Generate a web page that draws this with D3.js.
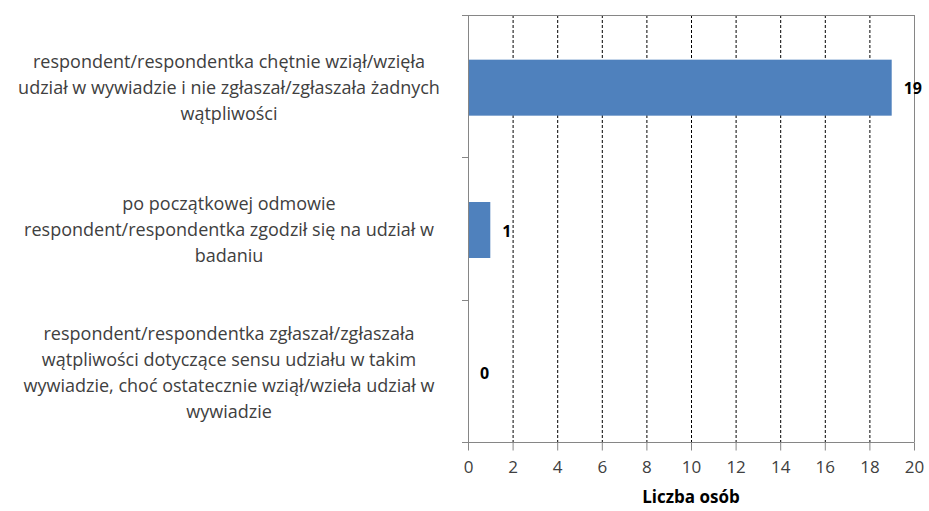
<!DOCTYPE html>
<html><head><meta charset="utf-8">
<script src="https://cdn.jsdelivr.net/npm/d3@7"></script>
<style>body{margin:0;background:#fff;} svg{display:block;}</style>
</head><body>
<svg id="chart" width="929" height="511"></svg>
<script>
const categories = [
  ["respondent/respondentka chętnie wziął/wzięła", "udział w wywiadzie i nie zgłaszał/zgłaszała żadnych", "wątpliwości"],
  ["po początkowej odmowie", "respondent/respondentka zgodził się na udział w", "badaniu"],
  ["respondent/respondentka zgłaszał/zgłaszała", "wątpliwości dotyczące sensu udziału w takim", "wywiadzie, choć ostatecznie wziął/wzieła udział w", "wywiadzie"]
];
const values = [19, 1, 0];
const xTicks = [0, 2, 4, 6, 8, 10, 12, 14, 16, 18, 20];
const xTitle = "Liczba osób";

const svg = d3.select("#chart");
const m = {left: 468, right: 914, top: 15, bottom: 442};
const font = "Open Sans, Liberation Sans, sans-serif";

const x = d3.scaleLinear().domain([0, 20]).range([m.left, m.right]);
const y = d3.scaleBand().domain(d3.range(categories.length)).range([m.top, m.bottom]).paddingInner(0).paddingOuter(0);
const barH = 56;
const off = 1.5;

// gridlines
svg.append("g").selectAll("line").data(xTicks.filter(t => t > 0 && t < 20)).join("line")
  .attr("x1", d => x(d) + 0.5).attr("x2", d => x(d) + 0.5)
  .attr("y1", m.top).attr("y2", m.bottom)
  .attr("stroke", "#000").attr("stroke-width", 1).attr("stroke-dasharray", "3,2");

// frame top and right
svg.append("line").attr("x1", m.left).attr("x2", m.right + 0.5).attr("y1", m.top + 0.5).attr("y2", m.top + 0.5).attr("stroke", "#868686");
svg.append("line").attr("x1", m.right + 0.5).attr("x2", m.right + 0.5).attr("y1", m.top).attr("y2", m.bottom).attr("stroke", "#868686");

// bars
svg.append("g").selectAll("rect").data(values).join("rect")
  .attr("x", x(0)).attr("y", (d, i) => y(i) + y.bandwidth() / 2 - barH / 2 + off)
  .attr("width", d => x(d) - x(0)).attr("height", barH)
  .attr("fill", "#4F81BD");

// value labels
svg.append("g").selectAll("text").data(values).join("text")
  .attr("x", d => x(d) + 12).attr("y", (d, i) => y(i) + y.bandwidth() / 2 + off + 1)
  .attr("dy", "0.35em")
  .attr("font-family", font).attr("font-size", 16).attr("font-weight", "bold").attr("fill", "#000")
  .text(d => d);

// x axis
const xAxis = d3.axisBottom(x).tickValues(xTicks).tickSize(8).tickPadding(10).tickFormat(d3.format("d"));
const gx = svg.append("g").attr("transform", `translate(0,${m.bottom + 0.5})`).call(xAxis);
gx.select(".domain").attr("stroke", "#868686").attr("d", `M${m.left - 6},0H${m.right + 0.5}`);
gx.selectAll(".tick line").attr("stroke", "#868686");
gx.selectAll("text").attr("font-family", font).attr("font-size", 17).attr("fill", "#404040");

// y axis (category separators)
const yEdges = [0, 1, 2, 3].map(i => i < 3 ? y(i) : m.bottom);
svg.append("line").attr("x1", m.left + 0.5).attr("x2", m.left + 0.5).attr("y1", m.top).attr("y2", m.bottom).attr("stroke", "#868686");
svg.append("g").selectAll("line").data(yEdges).join("line")
  .attr("x1", m.left - 6).attr("x2", m.left).attr("y1", d => Math.round(d) + 0.5).attr("y2", d => Math.round(d) + 0.5)
  .attr("stroke", "#868686");

// category labels
const lh = 26;
const cg = svg.append("g");
categories.forEach((lines, i) => {
  const cy = y(i) + y.bandwidth() / 2 + off;
  const t = cg.append("text").attr("text-anchor", "middle")
    .attr("font-family", font).attr("font-size", 18).attr("fill", "#404040");
  lines.forEach((ln, j) => {
    t.append("tspan").attr("x", 229).attr("y", cy + (j - (lines.length - 1) / 2) * lh).attr("dy", "0.35em").text(ln);
  });
});

// x title
svg.append("text").attr("x", (m.left + m.right) / 2).attr("y", 503)
  .attr("text-anchor", "middle").attr("font-family", font).attr("font-size", 17).attr("font-weight", "bold").attr("fill", "#000")
  .text(xTitle);
</script>
</body></html>
